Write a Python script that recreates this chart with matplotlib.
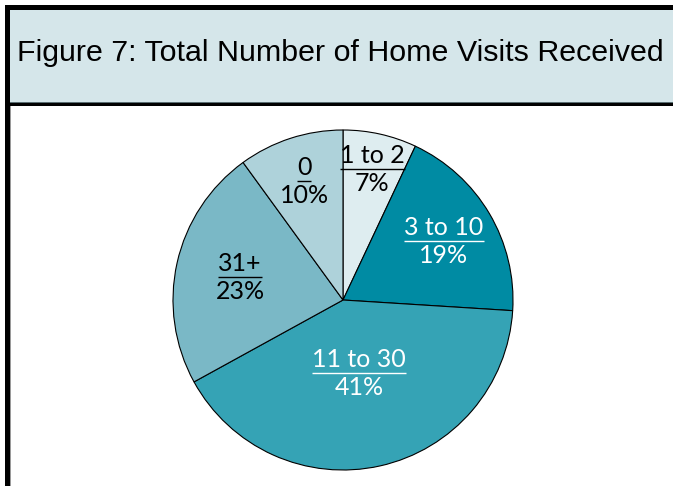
import matplotlib
matplotlib.use("Agg")
import matplotlib.pyplot as plt
from matplotlib.patches import Rectangle
import numpy as np

labels = ["1 to 2", "3 to 10", "11 to 30", "31+", "0"]
values = [7, 19, 41, 23, 10]
colors = ["#deedf0", "#008ba3", "#35a3b5", "#7ab8c6", "#aed2da"]
text_colors = ["black", "white", "white", "black", "black"]
label_radius = [0.79, 0.69, 0.44, 0.62, 0.74]
title = "Figure 7: Total Number of Home Visits Received"

W, H = 673, 486
fig = plt.figure(figsize=(W / 100, H / 100), dpi=100)
fig.patch.set_facecolor("white")

def rect(x0, y0, x1, y1, color):
    fig.patches.append(Rectangle((x0 / W, 1 - y1 / H), (x1 - x0) / W, (y1 - y0) / H,
                                 transform=fig.transFigure, facecolor=color,
                                 edgecolor="none", zorder=0))

# title bar and frame
rect(10, 10, W, 102, "#d5e6ea")
rect(5, 5, W, 10, "black")
rect(5, 5, 10, H, "black")
rect(10, 102, W, 103, "#5a6e72")
rect(10, 103, W, 106, "black")
rect(10, 106, 11, H, "#9a9a9a")

fig.canvas.draw()
renderer = fig.canvas.get_renderer()

tt = fig.text(17 / W, 1 - 53 / H, title, fontsize=20, ha="left", va="center",
              family=["Liberation Sans", "DejaVu Sans"], color="black")
w0 = tt.get_window_extent(renderer).width
tt.set_fontsize(20 * 647 / w0)

cx, cy, r = 343, 300, 170
ax = fig.add_axes([(cx - r) / W, (H - cy - r) / H, 2 * r / W, 2 * r / H])

wedges, _ = ax.pie(values, colors=colors, startangle=90, counterclock=False,
                   radius=1, wedgeprops=dict(edgecolor="black", linewidth=0.8))
ax.set_xlim(-1, 1)
ax.set_ylim(-1, 1)
ax.set_aspect("equal")
ax.axis("off")

total = sum(values)
cum = 0
fs = 18
for lab, v, tc, rr in zip(labels, values, text_colors, label_radius):
    mid = 90 - (cum + v / 2) / total * 360
    cum += v
    x = rr * np.cos(np.radians(mid))
    y = rr * np.sin(np.radians(mid))
    t1 = ax.text(x, y + 0.01, lab, ha="center", va="bottom", fontsize=fs,
                 color=tc, family=["Lato", "DejaVu Sans"])
    ax.text(x, y - 0.02, f"{v}%", ha="center", va="top", fontsize=fs,
            color=tc, family=["Lato", "DejaVu Sans"])
    bb = t1.get_window_extent(renderer).transformed(ax.transData.inverted())
    ax.plot([bb.x0, bb.x1], [y - 0.002, y - 0.002], color=tc, lw=1.0,
            solid_capstyle="butt")

fig.savefig("out.png", dpi=100)
